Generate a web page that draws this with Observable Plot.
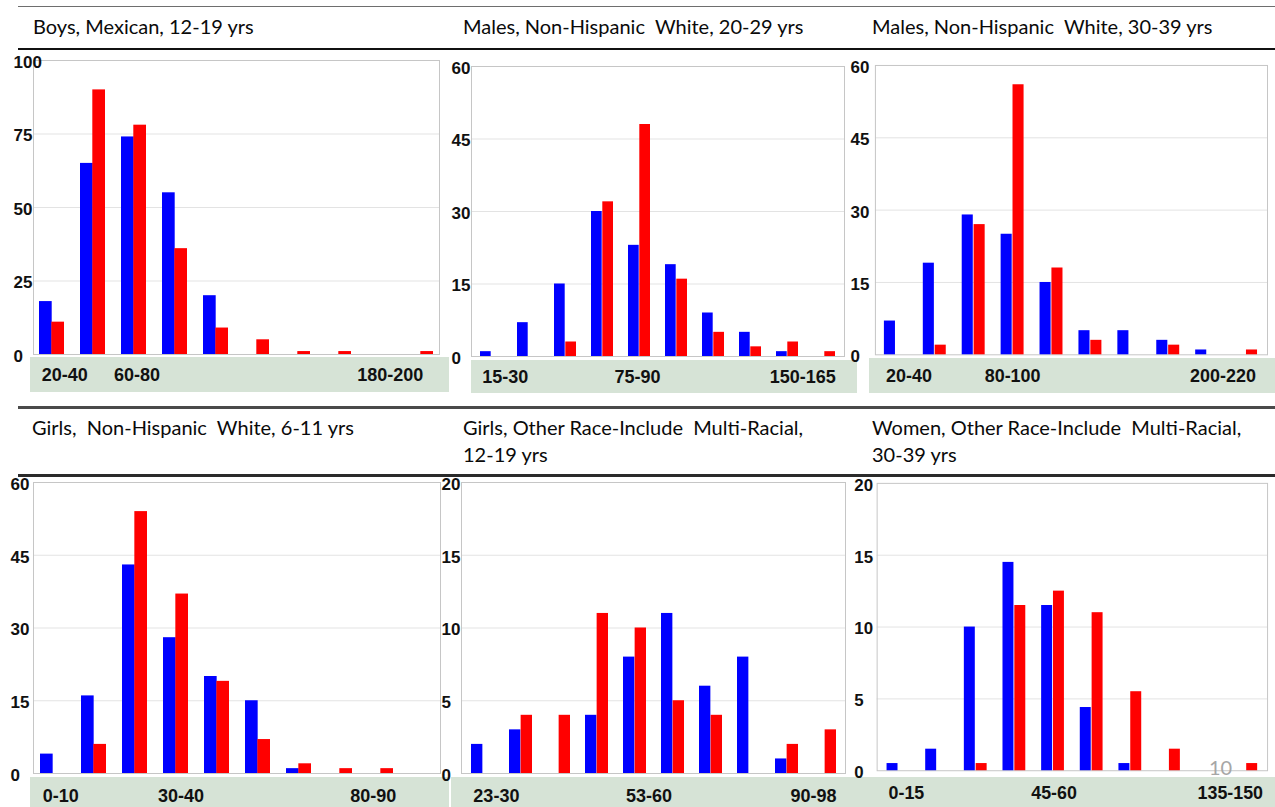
<!DOCTYPE html>
<html><head><meta charset="utf-8">
<script src="https://cdn.jsdelivr.net/npm/d3@7"></script>
<script src="https://cdn.jsdelivr.net/npm/@observablehq/plot@0.6"></script>
<style>
body{margin:0;background:#fff;}
#page{position:relative;width:1275px;height:807px;overflow:hidden;background:#fff;font-family:Lato,"Open Sans",sans-serif;}
.hline{position:absolute;left:18px;width:1257px;}
.title{position:absolute;font-size:20px;color:#0a0a0a;white-space:pre;line-height:27px;}
.strip{position:absolute;background:#d6e3d6;}
.panel{position:absolute;}
.pageno{position:absolute;font-size:20px;line-height:20px;color:#a6a6a6;z-index:5;}
</style></head><body><div id="page"></div>
<script>
// ---------- DATA ----------
const titles = [
  "Boys, Mexican, 12-19 yrs",
  "Males, Non-Hispanic  White, 20-29 yrs",
  "Males, Non-Hispanic  White, 30-39 yrs",
  "Girls,  Non-Hispanic  White, 6-11 yrs",
  "Girls, Other Race-Include  Multi-Racial,\n12-19 yrs",
  "Women, Other Race-Include  Multi-Racial,\n30-39 yrs"
];
const bins1 = ["20-40","40-60","60-80","80-100","100-120","120-140","140-160","160-180","180-200","200-220"];
const blue1 = [18,65,74,55,20,0,0,0,0,0];
const red1  = [11,90,78,36,9,5,1,1,0,1];
const bins2 = ["15-30","30-45","45-60","60-75","75-90","90-105","105-120","120-135","135-150","150-165"];
const blue2 = [1,7,15,30,23,19,9,5,1,0];
const red2  = [0,0,3,32,48,16,5,2,3,1];
const bins3 = ["20-40","40-60","60-80","80-100","100-120","120-140","140-160","160-180","180-200","200-220"];
const blue3 = [7,19,29,25,15,5,5,3,1,0];
const red3  = [0,2,27,56,18,3,0,2,0,1];
const bins4 = ["0-10","10-20","20-30","30-40","40-50","50-60","60-70","70-80","80-90","90-100"];
const blue4 = [4,16,43,28,20,15,1,0,0,0];
const red4  = [0,6,54,37,19,7,2,1,1,0];
const bins5 = ["23-30","30-38","38-45","45-53","53-60","60-68","68-75","75-83","83-90","90-98"];
const blue5 = [2,3,0,4,8,11,6,8,1,0];
const red5  = [0,4,4,11,10,5,4,0,2,3];
const bins6 = ["0-15","15-30","30-45","45-60","60-75","75-90","90-105","105-120","120-135","135-150"];
const blue6 = [0.5,1.5,10,14.5,11.5,4.4,0.5,0,0,0];
const red6  = [0,0,0.5,11.5,12.5,11,5.5,1.5,0,0.5];
const xLabels1 = ["20-40","60-80","180-200"];
const xLabels2 = ["15-30","75-90","150-165"];
const xLabels3 = ["20-40","80-100","200-220"];
const xLabels4 = ["0-10","30-40","80-90"];
const xLabels5 = ["23-30","53-60","90-98"];
const xLabels6 = ["0-15","45-60","135-150"];
const yTicks1 = [0,25,50,75,100];
const yTicks2 = [0,15,30,45,60];
const yTicks3 = [0,15,30,45,60];
const yTicks4 = [0,15,30,45,60];
const yTicks5 = [0,5,10,15,20];
const yTicks6 = [0,5,10,15,20];
const pageNumber = "10";

const panels = [
  {bins:bins1, blue:blue1, red:red1, xl:xLabels1, yt:yTicks1},
  {bins:bins2, blue:blue2, red:red2, xl:xLabels2, yt:yTicks2},
  {bins:bins3, blue:blue3, red:red3, xl:xLabels3, yt:yTicks3},
  {bins:bins4, blue:blue4, red:red4, xl:xLabels4, yt:yTicks4},
  {bins:bins5, blue:blue5, red:red5, xl:xLabels5, yt:yTicks5},
  {bins:bins6, blue:blue6, red:red6, xl:xLabels6, yt:yTicks6}
];

// ---------- LAYOUT (positions / styles) ----------
const layout = [
  {x0:33,  x1:439,  y0:60,  y1:354, ydx:-20, sx0:30,  sx1:449,  sy0:357, sy1:392, tx:33,  ty:12.8, xpad:14,   mid:3,  last:31},
  {x0:471, x1:844,  y0:66,  y1:356, ydx:-20, sx0:471, sx1:857,  sy0:360, sy1:393, tx:463, ty:12.8, xpad:14,   mid:-2, last:0},
  {x0:875, x1:1268, y0:65,  y1:355, ydx:-25, sx0:869, sx1:1275, sy0:358, sy1:393, tx:872, ty:12.8, xpad:14.5, mid:0,  last:-2},
  {x0:33,  x1:440,  y0:482, y1:773, ydx:-23, sx0:30,  sx1:449,  sy0:777, sy1:807, tx:32,  ty:414.3, xpad:15.5, mid:5,  last:3},
  {x0:461, x1:845,  y0:482, y1:773, ydx:-20, sx0:451, sx1:850,  sy0:777, sy1:807, tx:463, ty:414.3, xpad:15.5, mid:14, last:0},
  {x0:877, x1:1271, y0:483, y1:773, ydx:-23, sx0:850, sx1:1275, sy0:777, sy1:807, tx:872, ty:414.3, xpad:15.5, mid:40, last:5}
];

const page = document.getElementById("page");
function addDiv(cls, css, text) {
  const d = document.createElement("div");
  d.className = cls;
  Object.assign(d.style, css);
  if (text != null) d.textContent = text;
  page.appendChild(d);
  return d;
}
// rules
addDiv("hline", {top:"5.5px", height:"1.5px", background:"#6e6e6e"});
addDiv("hline", {top:"47.5px", height:"2.5px", background:"#111"});
addDiv("hline", {top:"406px", height:"2.5px", background:"#4a4a4a"});
addDiv("hline", {top:"474px", height:"3px", background:"#2a2a2a"});

const PI = 0.4, PO = 0.15;
const padL = 40, padR = 8, padT = 14, padB = 42;
const axisFont = {fontSize: 18, fontWeight: "bold", fill: "#111"};

panels.forEach((p, i) => {
  const L = layout[i];
  addDiv("strip", {left:L.sx0+"px", top:L.sy0+"px", width:(L.sx1-L.sx0)+"px", height:(L.sy1-L.sy0)+"px"});
  addDiv("title", {left:L.tx+"px", top:L.ty+"px"}, titles[i]);

  const data = p.bins.map((b, k) => ({bin: b, blue: p.blue[k], red: p.red[k]}));
  const w = L.x1 - L.x0, h = L.y1 - L.y0;
  const step = w / (p.bins.length - PI + 2 * PO);
  const bw = step * (1 - PI);
  const ymax = p.yt[p.yt.length - 1];

  const chart = Plot.plot({
    width: w + padL + padR,
    height: h + padT + padB,
    marginLeft: padL, marginRight: padR, marginTop: padT, marginBottom: padB,
    style: {background: "transparent", overflow: "visible", fontFamily: "'Liberation Sans', Arial, sans-serif"},
    x: {type: "band", domain: p.bins, paddingInner: PI, paddingOuter: PO, axis: null},
    y: {domain: [0, ymax], axis: null},
    marks: [
      Plot.gridY(p.yt.slice(1, -1), {stroke: "#e3e3e3", strokeOpacity: 1}),
      Plot.frame({stroke: "#c6c6c6"}),
      Plot.barY(data, {x: "bin", y: "blue", fill: "#0000ff", insetLeft: 0, insetRight: bw / 2}),
      Plot.barY(data, {x: "bin", y: "red", fill: "#ff0000", insetLeft: bw / 2, insetRight: 0}),
      Plot.axisY(p.yt, {anchor: "left", label: null, tickSize: 0, tickPadding: 0, textAnchor: "start", dx: L.ydx, dy: 2, ...axisFont, fontSize: 17}),
      Plot.axisX([p.xl[0]], {anchor: "bottom", label: null, tickSize: 0, tickPadding: L.xpad, textAnchor: "start", dx: -bw / 2 + 2, ...axisFont}),
      Plot.axisX([p.xl[1]], {anchor: "bottom", label: null, tickSize: 0, tickPadding: L.xpad, dx: L.mid, ...axisFont}),
      Plot.axisX([p.xl[2]], {anchor: "bottom", label: null, tickSize: 0, tickPadding: L.xpad, textAnchor: "end", dx: bw / 2 + L.last, ...axisFont})
    ]
  });
  const holder = addDiv("panel", {left: (L.x0 - padL) + "px", top: (L.y0 - padT) + "px"});
  holder.appendChild(chart);
});

addDiv("pageno", {left: "1209px", top: "757px"}, pageNumber);
</script>
</body></html>
